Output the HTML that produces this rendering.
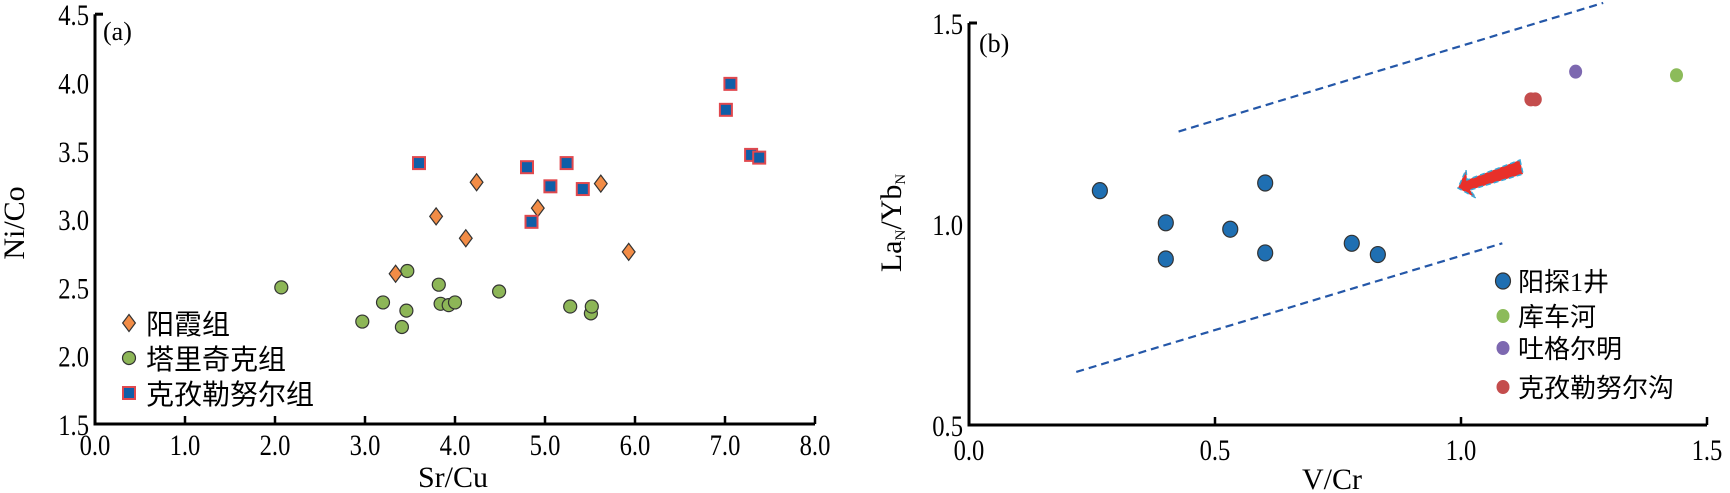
<!DOCTYPE html>
<html><head><meta charset="utf-8"><style>
html,body{margin:0;padding:0;background:#fff;}
svg{display:block;font-family:"Liberation Serif","Noto Serif CJK SC",serif;}
.cjk{font-family:"Liberation Serif","Noto Sans CJK SC",sans-serif;}
</style></head><body>
<svg id="chart" width="1730" height="493" viewBox="0 0 1730 493" xmlns="http://www.w3.org/2000/svg">
<g id="pa"></g>
<g id="pb"></g>
</svg>
<script>
// Panel A data
const aXTicks = [0,1,2,3,4,5,6,7,8];
const aYTicks = [1.5,2.0,2.5,3.0,3.5,4.0,4.5];
const yangxiaX = [3.34,3.79,4.24,4.12,4.92,5.62,5.93];
const yangxiaY = [2.60,3.02,3.27,2.86,3.08,3.26,2.76];
const talikeX = [2.07,2.97,3.20,3.41,3.46,3.47,3.82,3.84,3.93,4.00,4.49,5.28,5.51,5.52];
const talikeY = [2.50,2.25,2.39,2.21,2.33,2.62,2.52,2.38,2.37,2.39,2.47,2.36,2.31,2.36];
const kezileX = [3.60,4.80,4.85,5.24,5.06,5.42,7.01,7.06,7.29,7.38];
const kezileY = [3.41,3.38,2.98,3.41,3.24,3.22,3.80,3.99,3.47,3.45];
// Panel B data
const bXTicks = [0.0,0.5,1.0,1.5];
const bYTicks = [0.5,1.0,1.5];
const ytX = [0.266,0.40,0.40,0.531,0.602,0.602,0.778,0.831];
const ytY = [1.083,1.003,0.913,0.987,1.102,0.928,0.952,0.924];
const kchX = [1.438]; const kchY = [1.370];
const tgX = [1.233]; const tgY = [1.379];
const kzgX = [1.142,1.151]; const kzgY = [1.31,1.31];
const upperX = [0.426,1.289]; const upperY = [1.23,1.55];
const lowerX = [0.218,1.084]; const lowerY = [0.632,0.952];

const NS="http://www.w3.org/2000/svg";
function mk(parent,tag,attrs,text){const e=document.createElementNS(NS,tag);for(const k in attrs)e.setAttribute(k,attrs[k]);if(text!==undefined)e.textContent=text;parent.appendChild(e);return e;}

// ---- Panel A
const pa=document.getElementById('pa');
const ax=v=>95+90*v, ay=v=>424-(v-1.5)*136.6;
let e;
e=mk(pa,'path',{d:`M${ax(0)},${ay(4.5)} L${ax(0)},${ay(1.5)} L${ax(8)},${ay(1.5)}`,fill:'none',stroke:'#000','stroke-width':3});
 
mk(pa,'line',{x1:ax(0),y1:ay(4.5),x2:ax(0)+8,y2:ay(4.5),stroke:'#000','stroke-width':3});
aXTicks.forEach(v=>{
  e=mk(pa,'line',{x1:ax(v),y1:ay(1.5),x2:ax(v),y2:ay(1.5)-8,stroke:'#000','stroke-width':2.5});
   
  e=mk(pa,'text',{x:ax(v),y:455,'font-size':30,'text-anchor':'middle',transform:`translate(${ax(v)},0) scale(0.82,1) translate(${-ax(v)},0)`},v.toFixed(1));
   
});
aYTicks.forEach(v=>{
  e=mk(pa,'text',{x:89,y:ay(v)+11,'font-size':30,'text-anchor':'end',transform:`translate(89,0) scale(0.82,1) translate(-89,0)`},v.toFixed(1));
   
});
e=mk(pa,'text',{x:453,y:487,'font-size':30,'text-anchor':'middle'},'Sr/Cu');
 
e=mk(pa,'text',{x:0,y:0,'font-size':30,'text-anchor':'middle',transform:'translate(24,223) rotate(-90)'},'Ni/Co');
 
e=mk(pa,'text',{x:103,y:40,'font-size':26},'(a)');
 
function diamond(g,x,y,s){return mk(g,'path',{d:`M${x},${y-s} L${x+s*0.75},${y} L${x},${y+s} L${x-s*0.75},${y} Z`,fill:'#f28c46',stroke:'#333','stroke-width':1.2});}
function sq(g,x,y,s){return mk(g,'rect',{x:x-s,y:y-s,width:2*s,height:2*s,fill:'#0f5ea8',stroke:'#e0484e','stroke-width':2});}
function circ(g,x,y,rx,ry,fill){return mk(g,'ellipse',{cx:x,cy:y,rx:rx,ry:ry,fill:fill,stroke:'#333','stroke-width':1.2});}
talikeX.forEach((v,i)=>{e=circ(pa,ax(v),ay(talikeY[i]),6.5,6.5,'#8db657');
   });
yangxiaX.forEach((v,i)=>{e=diamond(pa,ax(v),ay(yangxiaY[i]),8.5);
   });
kezileX.forEach((v,i)=>{e=sq(pa,ax(v),ay(kezileY[i]),6);
   });
// legend a
e=diamond(pa,129,323,8.5);  
e=circ(pa,129,358,6.5,6.5,'#8db657');  
e=sq(pa,129,393,6);  
[['阳霞组',323,'legend-label-yangxia'],['塔里奇克组',358,'legend-label-talike'],['克孜勒努尔组',393,'legend-label-kezile']].forEach(t=>{
  e=mk(pa,'text',{x:146,y:t[1]+11,'font-size':28,class:'cjk'},t[0]);
   
});

// ---- Panel B
const pb=document.getElementById('pb');
const bx=v=>969+492*v, by=v=>425-(v-0.5)*402;
e=mk(pb,'path',{d:`M${bx(0)},${by(1.5)} L${bx(0)},${by(0.5)} L${bx(1.5)},${by(0.5)}`,fill:'none',stroke:'#000','stroke-width':3});
 
mk(pb,'line',{x1:bx(0),y1:by(1.5),x2:bx(0)+8,y2:by(1.5),stroke:'#000','stroke-width':3});
bXTicks.forEach(v=>{
  e=mk(pb,'line',{x1:bx(v),y1:by(0.5),x2:bx(v),y2:by(0.5)-8,stroke:'#000','stroke-width':2.5});
   
  e=mk(pb,'text',{x:bx(v),y:460,'font-size':30,'text-anchor':'middle',transform:`translate(${bx(v)},0) scale(0.82,1) translate(${-bx(v)},0)`},v.toFixed(1));
   
});
bYTicks.forEach(v=>{
  e=mk(pb,'text',{x:963,y:by(v)+11,'font-size':30,'text-anchor':'end',transform:`translate(963,0) scale(0.82,1) translate(-963,0)`},v.toFixed(1));
   
});
e=mk(pb,'text',{x:1332,y:489,'font-size':30,'text-anchor':'middle'},'V/Cr');
 
e=mk(pb,'text',{x:0,y:0,'font-size':30,'text-anchor':'middle',transform:'translate(901,223) rotate(-90)'});
 
e.innerHTML='La<tspan font-size="15" dy="4">N</tspan><tspan dy="-4">/Yb</tspan><tspan font-size="15" dy="4">N</tspan>';
e=mk(pb,'text',{x:979,y:52,'font-size':26},'(b)');
 
e=mk(pb,'line',{x1:bx(upperX[0]),y1:by(upperY[0]),x2:bx(upperX[1]),y2:by(upperY[1]),stroke:'#2457a8','stroke-width':2.2,'stroke-dasharray':'8,5'});
 
e=mk(pb,'line',{x1:bx(lowerX[0]),y1:by(lowerY[0]),x2:bx(lowerX[1]),y2:by(lowerY[1]),stroke:'#2457a8','stroke-width':2.2,'stroke-dasharray':'8,5'});
 
// arrow
e=mk(pb,'path',{d:'M1520,160 L1523,174 L1470,190 L1476,198 L1458,188 L1466,170 L1467,180 Z',fill:'#e8302a',stroke:'#3aa8d8','stroke-width':1.5,'stroke-dasharray':'5,3'});
 
ytX.forEach((v,i)=>{e=circ(pb,bx(v),by(ytY[i]),7.5,8,'#1f6fb2');
   });
function dot(x,y,c){return mk(pb,'ellipse',{cx:x,cy:y,rx:6.5,ry:7,fill:c});}
kchX.forEach((v,i)=>{e=dot(bx(v),by(kchY[i]),'#8cbb5a');  });
tgX.forEach((v,i)=>{e=dot(bx(v),by(tgY[i]),'#7d68b0');  });
kzgX.forEach((v,i)=>{e=dot(bx(v),by(kzgY[i]),'#c44d4d');  });
// legend b
e=circ(pb,1503,281,7.5,8,'#1f6fb2');  
e=dot(1503,316,'#8cbb5a');  
e=dot(1503,348,'#7d68b0');  
e=dot(1503,387,'#c44d4d');  
[['阳探1井',281,'legend-label-yangtan1'],['库车河',316,'legend-label-kucheriver'],['吐格尔明',348,'legend-label-tugeerming'],['克孜勒努尔沟',387,'legend-label-kezilegou']].forEach(t=>{
  e=mk(pb,'text',{x:1518,y:t[1]+10,'font-size':26,class:'cjk'},t[0]);
   
});
</script>
</body></html>
